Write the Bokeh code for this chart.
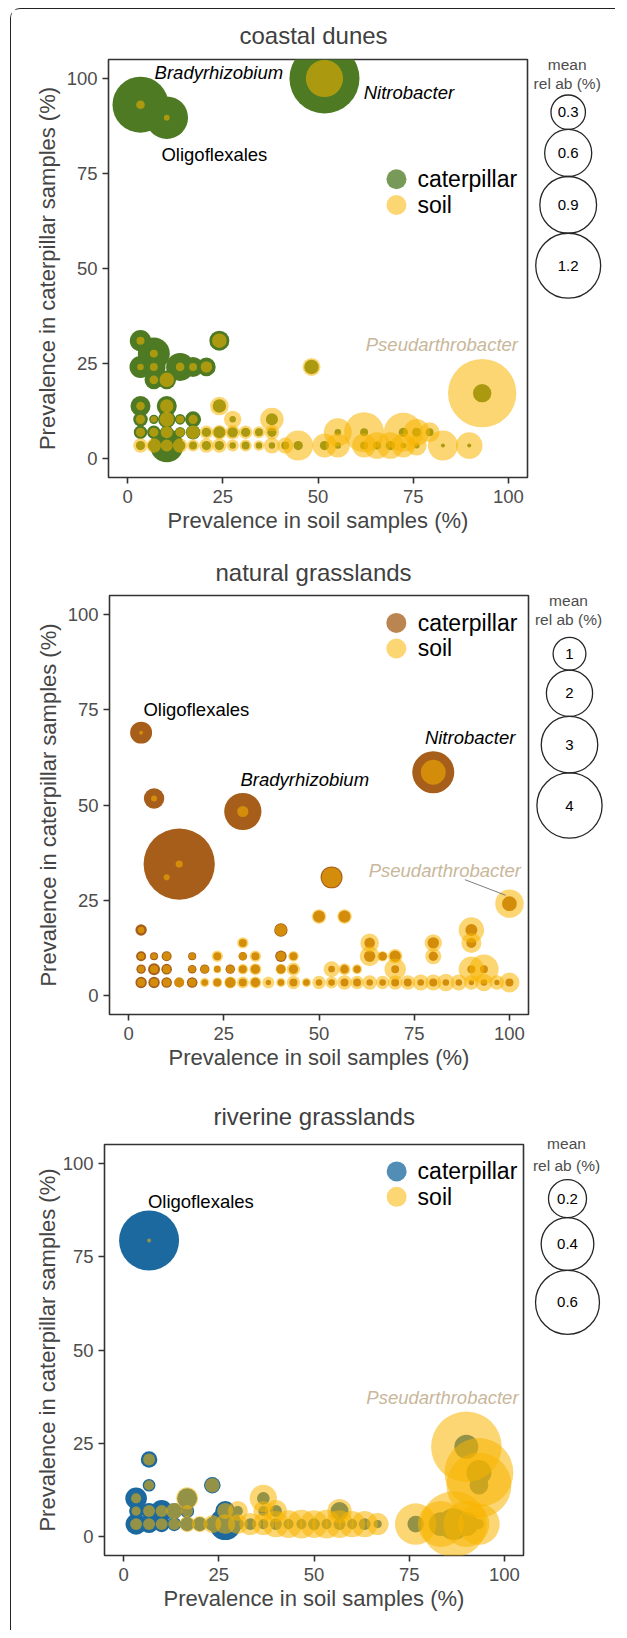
import math
from bokeh.plotting import figure
from bokeh.layouts import row, column
from bokeh.models import ColumnDataSource, Range1d, FixedTicker, Label
from bokeh.embed import file_html
from bokeh.resources import INLINE

# ---------------- data ----------------
TICKS = [0, 25, 50, 75, 100]
X_LABEL = "Prevalence in soil samples (%)"
Y_LABEL = "Prevalence in caterpillar samples (%)"
SERIES = ["caterpillar", "soil"]

# coastal dunes: prevalence (x = soil, y = caterpillar) and mean relative abundance (%)
cd_soil_prev = [3.4, 10.3, 51.7, 93.1,
                3.4, 24.1,
                6.9,
                3.4, 6.9, 13.8, 17.2, 20.7, 48.3,
                6.9, 10.3,
                3.4, 10.3, 24.1,
                3.4, 6.9, 10.3, 13.8, 17.2, 27.6, 37.9,
                3.4, 6.9, 10.3, 13.8, 17.2, 20.7, 24.1, 27.6, 31.0, 34.5, 37.9, 55.2, 62.1, 72.4, 75.9, 79.3,
                3.4, 6.9, 10.3, 13.8, 17.2, 20.7, 24.1, 27.6, 31.0, 34.5, 37.9, 41.4, 44.8, 51.7, 55.2, 62.1,
                65.5, 69.0, 72.4, 75.9, 82.8, 89.7]
cd_cat_prev = [93.1, 89.7, 100.0, 17.2,
               31.0, 31.0,
               27.6,
               24.1, 24.1, 24.1, 24.1, 24.1, 24.1,
               20.7, 20.7,
               13.8, 13.8, 13.8,
               10.3, 10.3, 10.3, 10.3, 10.3, 10.3, 10.3,
               6.9, 6.9, 6.9, 6.9, 6.9, 6.9, 6.9, 6.9, 6.9, 6.9, 6.9, 6.9, 6.9, 6.9, 6.9, 6.9,
               3.4, 3.4, 3.4, 3.4, 3.4, 3.4, 3.4, 3.4, 3.4, 3.4, 3.4, 3.4, 3.4, 3.4, 3.4, 3.4,
               3.4, 3.4, 3.4, 3.4, 3.4, 3.4]
cd_cat_relab = [0.875, 0.48, 1.41, 0.067,
                0.098, 0.083,
                0.254,
                0.105, 0.122, 0.186, 0.083, 0.069, 0.036,
                0.069, 0.069,
                0.083, 0.083, 0.029,
                0.036, 0.009, 0.058, 0.014, 0.047, 0.002, 0.021,
                0.029, 0.029, 0.029, 0.014, 0.036, 0.009, 0.021, 0.014, 0.009, 0.005, 0.009, 0.002, 0.005, 0.009, 0.009, 0.005,
                0.009, 0.021, 0.280, 0.014, 0.005, 0.009, 0.009, 0.002, 0.005, 0.002, 0.002, 0.005, 0.009, 0.009, 0.002, 0.005,
                0.005, 0.009, 0.001, 0.001, 0.000, 0.000]
cd_soil_relab = [0.007, 0.001, 0.357, 1.34,
                 0.005, 0.036,
                 0.005,
                 0.002, 0.005, 0.007, 0.005, 0.018, 0.063,
                 0.007, 0.036,
                 0.007, 0.029, 0.069,
                 0.009, 0.002, 0.036, 0.005, 0.009, 0.058, 0.122,
                 0.009, 0.009, 0.021, 0.009, 0.029, 0.029, 0.036, 0.036, 0.029, 0.021, 0.036, 0.186, 0.419, 0.400, 0.165, 0.083,
                 0.036, 0.036, 0.021, 0.036, 0.021, 0.036, 0.036, 0.021, 0.021, 0.014, 0.047, 0.047, 0.219, 0.129, 0.129, 0.129,
                 0.165, 0.165, 0.129, 0.083, 0.219, 0.165]
cd_size_breaks = [0.3, 0.6, 0.9, 1.2]

# natural grasslands
ng_soil_prev = [3.3, 6.7, 30.0, 13.3, 10.0, 80.0, 53.3, 100.0,
                50.0, 56.7,
                3.3, 40.0, 90.0,
                30.0, 63.3, 80.0, 90.0,
                3.3, 6.7, 10.0, 16.7, 23.3, 30.0, 33.3, 40.0, 43.3, 63.3, 66.7, 70.0, 80.0,
                3.3, 6.7, 10.0, 16.7, 20.0, 23.3, 26.7, 30.0, 33.3, 40.0, 43.3, 53.3, 56.7, 60.0, 70.0, 90.0, 93.3,
                3.3, 6.7, 10.0, 13.3, 16.7, 20.0, 23.3, 26.7, 30.0, 33.3, 36.7, 40.0, 43.3, 46.7, 50.0, 53.3,
                56.7, 60.0, 63.3, 66.7, 70.0, 73.3, 76.7, 80.0, 83.3, 86.7, 90.0, 93.3, 96.7, 100.0]
ng_cat_prev = [69.0, 51.7, 48.3, 34.5, 31.0, 58.6, 31.0, 24.1,
               20.7, 20.7,
               17.2, 17.2, 17.2,
               13.8, 13.8, 13.8, 13.8,
               10.3, 10.3, 10.3, 10.3, 10.3, 10.3, 10.3, 10.3, 10.3, 10.3, 10.3, 10.3, 10.3,
               6.9, 6.9, 6.9, 6.9, 6.9, 6.9, 6.9, 6.9, 6.9, 6.9, 6.9, 6.9, 6.9, 6.9, 6.9, 6.9, 6.9,
               3.4, 3.4, 3.4, 3.4, 3.4, 3.4, 3.4, 3.4, 3.4, 3.4, 3.4, 3.4, 3.4, 3.4, 3.4, 3.4,
               3.4, 3.4, 3.4, 3.4, 3.4, 3.4, 3.4, 3.4, 3.4, 3.4, 3.4, 3.4, 3.4, 3.4]
ng_cat_relab = [0.444, 0.381, 1.29, 4.78, 0.012, 1.65, 0.444, 0.198,
                0.128, 0.128,
                0.115, 0.161, 0.128,
                0.055, 0.099, 0.115, 0.088,
                0.088, 0.055, 0.088, 0.055, 0.055, 0.064, 0.055, 0.115, 0.055, 0.115, 0.064, 0.115, 0.077,
                0.077, 0.128, 0.099, 0.064, 0.077, 0.037, 0.077, 0.055, 0.077, 0.077, 0.077, 0.037, 0.064, 0.047, 0.055, 0.055, 0.055,
                0.115, 0.115, 0.099, 0.088, 0.099, 0.037, 0.055, 0.099, 0.055, 0.077, 0.024, 0.037, 0.055, 0.037, 0.037, 0.037,
                0.055, 0.055, 0.037, 0.037, 0.055, 0.055, 0.037, 0.055, 0.037, 0.037, 0.024, 0.037, 0.024, 0.055]
ng_soil_relab = [0.012, 0.030, 0.111, 0.044, 0.030, 0.567, 0.366, 0.747,
                 0.192, 0.192,
                 0.037, 0.128, 0.595,
                 0.115, 0.316, 0.275, 0.366,
                 0.037, 0.030, 0.055, 0.037, 0.115, 0.055, 0.115, 0.077, 0.099, 0.366, 0.099, 0.192, 0.232,
                 0.037, 0.055, 0.055, 0.037, 0.055, 0.055, 0.055, 0.099, 0.128, 0.099, 0.161, 0.232, 0.128, 0.088, 0.420, 0.595, 0.801,
                 0.055, 0.055, 0.055, 0.088, 0.055, 0.077, 0.088, 0.128, 0.128, 0.128, 0.128, 0.077, 0.161, 0.077, 0.161, 0.128,
                 0.192, 0.161, 0.192, 0.161, 0.192, 0.192, 0.232, 0.232, 0.275, 0.232, 0.192, 0.275, 0.192, 0.366]
ng_size_breaks = [1, 2, 3, 4]

# riverine grasslands
rg_soil_prev = [6.7, 90.0, 93.3, 93.3,
                6.7, 6.7, 23.3,
                3.3, 16.7, 36.7,
                3.3, 6.7, 10.0, 13.3, 16.7, 26.7, 30.0, 36.7, 40.0, 56.7,
                3.3, 6.7, 10.0, 13.3, 16.7, 20.0, 23.3, 26.7, 30.0, 33.3, 36.7, 40.0, 43.3, 46.7, 50.0, 53.3,
                56.7, 60.0, 63.3, 66.7, 76.7, 83.3, 86.7, 90.0, 93.3]
rg_cat_prev = [79.3, 24.1, 17.2, 13.8,
               20.7, 13.8, 13.8,
               10.3, 10.3, 10.3,
               6.9, 6.9, 6.9, 6.9, 6.9, 6.9, 6.9, 6.9, 6.9, 6.9,
               3.4, 3.4, 3.4, 3.4, 3.4, 3.4, 3.4, 3.4, 3.4, 3.4, 3.4, 3.4, 3.4, 3.4, 3.4, 3.4,
               3.4, 3.4, 3.4, 3.4, 3.4, 3.4, 3.4, 3.4, 3.4]
rg_cat_relab = [0.525, 0.073, 0.080, 0.041,
                0.031, 0.016, 0.031,
                0.058, 0.048, 0.016,
                0.021, 0.029, 0.060, 0.029, 0.021, 0.048, 0.009, 0.009, 0.014, 0.038,
                0.055, 0.038, 0.029, 0.021, 0.021, 0.021, 0.021, 0.138, 0.014, 0.014, 0.009, 0.014, 0.009, 0.009, 0.014, 0.009,
                0.014, 0.009, 0.014, 0.005, 0.031, 0.073, 0.134, 0.073, 0.009]
rg_soil_relab = [0.0003, 0.737, 0.700, 0.620,
                 0.014, 0.009, 0.023,
                 0.009, 0.060, 0.097,
                 0.007, 0.014, 0.014, 0.029, 0.014, 0.029, 0.048, 0.048, 0.060, 0.075,
                 0.014, 0.014, 0.014, 0.014, 0.029, 0.029, 0.038, 0.048, 0.048, 0.060, 0.060, 0.090, 0.100, 0.110, 0.100, 0.110,
                 0.100, 0.090, 0.090, 0.060, 0.242, 0.300, 0.640, 0.300, 0.242]
rg_size_breaks = [0.2, 0.4, 0.6]

# ---------------- styling ----------------
FONT = "Liberation Sans"
SOIL_COLOR = "#F7B500"
SOIL_ALPHA = 0.55
AXIS_DARK = "#333333"
GREY_TEXT = "#4D4D4D"
TAN = "#C9B79B"


def radius(v, a, b):
    # area-style size scale (radius grows with sqrt of the value)
    return a + b * math.sqrt(max(v, 0.0))


def main_panel(title, xs, ys, cat, soil, cat_color, a, b, w, h, mb, title_offset, title_standoff,
               ylab_standoff, key_pos, labels, leader=None):
    p = figure(width=w, height=h, x_range=Range1d(-5, 105), y_range=Range1d(-5, 105),
               output_backend="svg", toolbar_location=None, title=title,
               min_border_left=mb[0], min_border_right=mb[1], min_border_top=mb[2], min_border_bottom=mb[3])
    p.frame_align = False
    p.title.align = "left"
    p.title.offset = title_offset
    p.title.standoff = title_standoff
    p.title.text_font = FONT
    p.title.text_font_size = "24px"
    p.title.text_font_style = "normal"
    p.title.text_color = "#404040"

    p.grid.visible = False
    p.outline_line_color = AXIS_DARK
    p.outline_line_width = 1.6
    p.background_fill_color = "white"
    p.border_fill_color = "white"

    for ax in (p.xaxis[0], p.yaxis[0]):
        ax.ticker = FixedTicker(ticks=TICKS)
        ax.axis_line_color = None
        ax.major_tick_out = 6
        ax.major_tick_in = 0
        ax.major_tick_line_width = 1.6
        ax.major_tick_line_color = AXIS_DARK
        ax.minor_tick_line_color = None
        ax.major_label_text_font = FONT
        ax.major_label_text_font_size = "18.5px"
        ax.major_label_text_color = GREY_TEXT
        ax.axis_label_text_font = FONT
        ax.axis_label_text_font_size = "22px"
        ax.axis_label_text_font_style = "normal"
        ax.axis_label_text_color = "#454545"
    p.xaxis.axis_label = X_LABEL
    p.yaxis.axis_label = Y_LABEL
    p.xaxis.major_label_standoff = 6
    p.xaxis.axis_label_standoff = 2
    p.yaxis.major_label_standoff = 5
    p.yaxis.axis_label_standoff = ylab_standoff

    src = ColumnDataSource(dict(
        x=xs, y=ys,
        cat_size=[2 * radius(v, a, b) for v in cat],
        soil_size=[2 * radius(v, a, b) for v in soil],
    ))
    p.scatter("x", "y", source=src, size="cat_size", marker="circle",
              fill_color=cat_color, fill_alpha=1.0, line_color=None)
    p.scatter("x", "y", source=src, size="soil_size", marker="circle",
              fill_color=SOIL_COLOR, fill_alpha=SOIL_ALPHA, line_color=None)

    # colour legend keys (inside the panel, top right)
    kx, ky1, ky2, tx = key_pos
    p.scatter(x=[kx, kx], y=[ky1, ky2], size=20, marker="circle",
              fill_color=[cat_color, SOIL_COLOR], fill_alpha=[0.76, SOIL_ALPHA], line_color=None)
    for ky, lab in ((ky1, SERIES[0]), (ky2, SERIES[1])):
        p.add_layout(Label(x=tx, y=ky, text=lab, text_align="left", text_baseline="middle",
                           text_font=FONT, text_font_size="23px", text_color="black"))

    for (lx, ly, txt, align, italic, color) in labels:
        p.add_layout(Label(x=lx, y=ly, text=txt, text_align=align, text_baseline="middle",
                           text_font=FONT, text_font_size="18.5px",
                           text_font_style="italic" if italic else "normal", text_color=color))
    if leader is not None:
        p.segment(x0=[leader[0]], y0=[leader[1]], x1=[leader[2]], y1=[leader[3]],
                  line_color="#6E6E6E", line_width=0.9)
    return p


def size_legend(breaks, a, b, x0, x1, y0, y1, cx, y_mean, y_relab, top):
    lf = figure(width=x1 - x0, height=y1 - y0, x_range=Range1d(x0, x1), y_range=Range1d(y1, y0),
                output_backend="svg", toolbar_location=None, min_border=0,
                x_axis_location=None, y_axis_location=None)
    lf.frame_align = False
    lf.title = None
    lf.outline_line_color = None
    lf.grid.visible = False
    lf.background_fill_color = "white"
    lf.border_fill_color = "white"
    radii = [radius(v, a, b) for v in breaks]
    cys = []
    yy = top
    for r in radii:
        cys.append(yy + r)
        yy += 2 * r
    src = ColumnDataSource(dict(x=[cx] * len(breaks), y=cys, size=[2 * r for r in radii],
                                lab=[f"{v:g}" for v in breaks]))
    lf.scatter("x", "y", source=src, size="size", marker="circle", fill_color=None,
               line_color="#262626", line_width=1.3)
    lf.text("x", "y", text="lab", source=src, text_align="center", text_baseline="middle",
            text_font_size="15px", text_color="black", text_font={"value": FONT})
    lf.text(x=[cx - 1, cx - 1], y=[y_mean, y_relab], text=["mean", "rel ab (%)"], text_align="center",
            text_baseline="middle", text_font_size="15.5px", text_color=GREY_TEXT,
            text_font={"value": FONT})
    return lf


p1 = main_panel("coastal dunes", cd_soil_prev, cd_cat_prev, cd_cat_relab, cd_soil_relab, "#4E7A24",
                2.0, 27.8, 519, 536, (97, 3, 49, 68), 131, 21, 4, (70.6, 73.5, 66.7, 76.1),
                [(7.1, 101.6, "Bradyrhizobium", "left", True, "black"),
                 (62.0, 96.3, "Nitrobacter", "left", True, "black"),
                 (8.9, 80.0, "Oligoflexales", "left", False, "black"),
                 (102.5, 29.9, "Pseudarthrobacter", "right", True, TAN)])
l1 = size_legend(cd_size_breaks, 2.0, 27.8, 530, 615, 9, 545, 567.7, 64, 83.3, 94.5)

p2 = main_panel("natural grasslands", ng_soil_prev, ng_cat_prev, ng_cat_relab, ng_soil_relab, "#A65E1A",
                0.2, 16.2, 519, 540, (98, 2, 50, 71), 106, 19, 4, (70.3, 97.8, 91.1, 75.9),
                [(3.9, 75.0, "Oligoflexales", "left", False, "black"),
                 (29.4, 56.6, "Bradyrhizobium", "left", True, "black"),
                 (77.8, 67.6, "Nitrobacter", "left", True, "black"),
                 (103.0, 32.9, "Pseudarthrobacter", "right", True, TAN)],
                leader=(88.3, 30.4, 99.0, 26.3))
l2 = size_legend(ng_size_breaks, 0.2, 16.2, 530, 615, 545, 1085, 569, 600, 619.2, 636.9)

p3 = main_panel("riverine grasslands", rg_soil_prev, rg_cat_prev, rg_cat_relab, rg_soil_relab, "#1B699E",
                1.3, 39.6, 515, 545, (93, 3, 51, 75), 109, 30, 0, (71.7, 97.8, 91.0, 77.2),
                [(6.4, 89.7, "Oligoflexales", "left", False, "black"),
                 (103.7, 37.4, "Pseudarthrobacter", "right", True, TAN)])
l3 = size_legend(rg_size_breaks, 1.3, 39.6, 526, 615, 1085, 1630, 567, 1143.3, 1164.7, 1179.2)

layout = column(row(p1, l1), row(p2, l2), row(p3, l3),
                styles={"border-left": "1px solid #222222", "border-top": "1px solid #222222",
                        "border-top-left-radius": "10px", "margin-left": "10px", "margin-top": "8px"})

open("out.html", "w").write(file_html(layout, INLINE))
